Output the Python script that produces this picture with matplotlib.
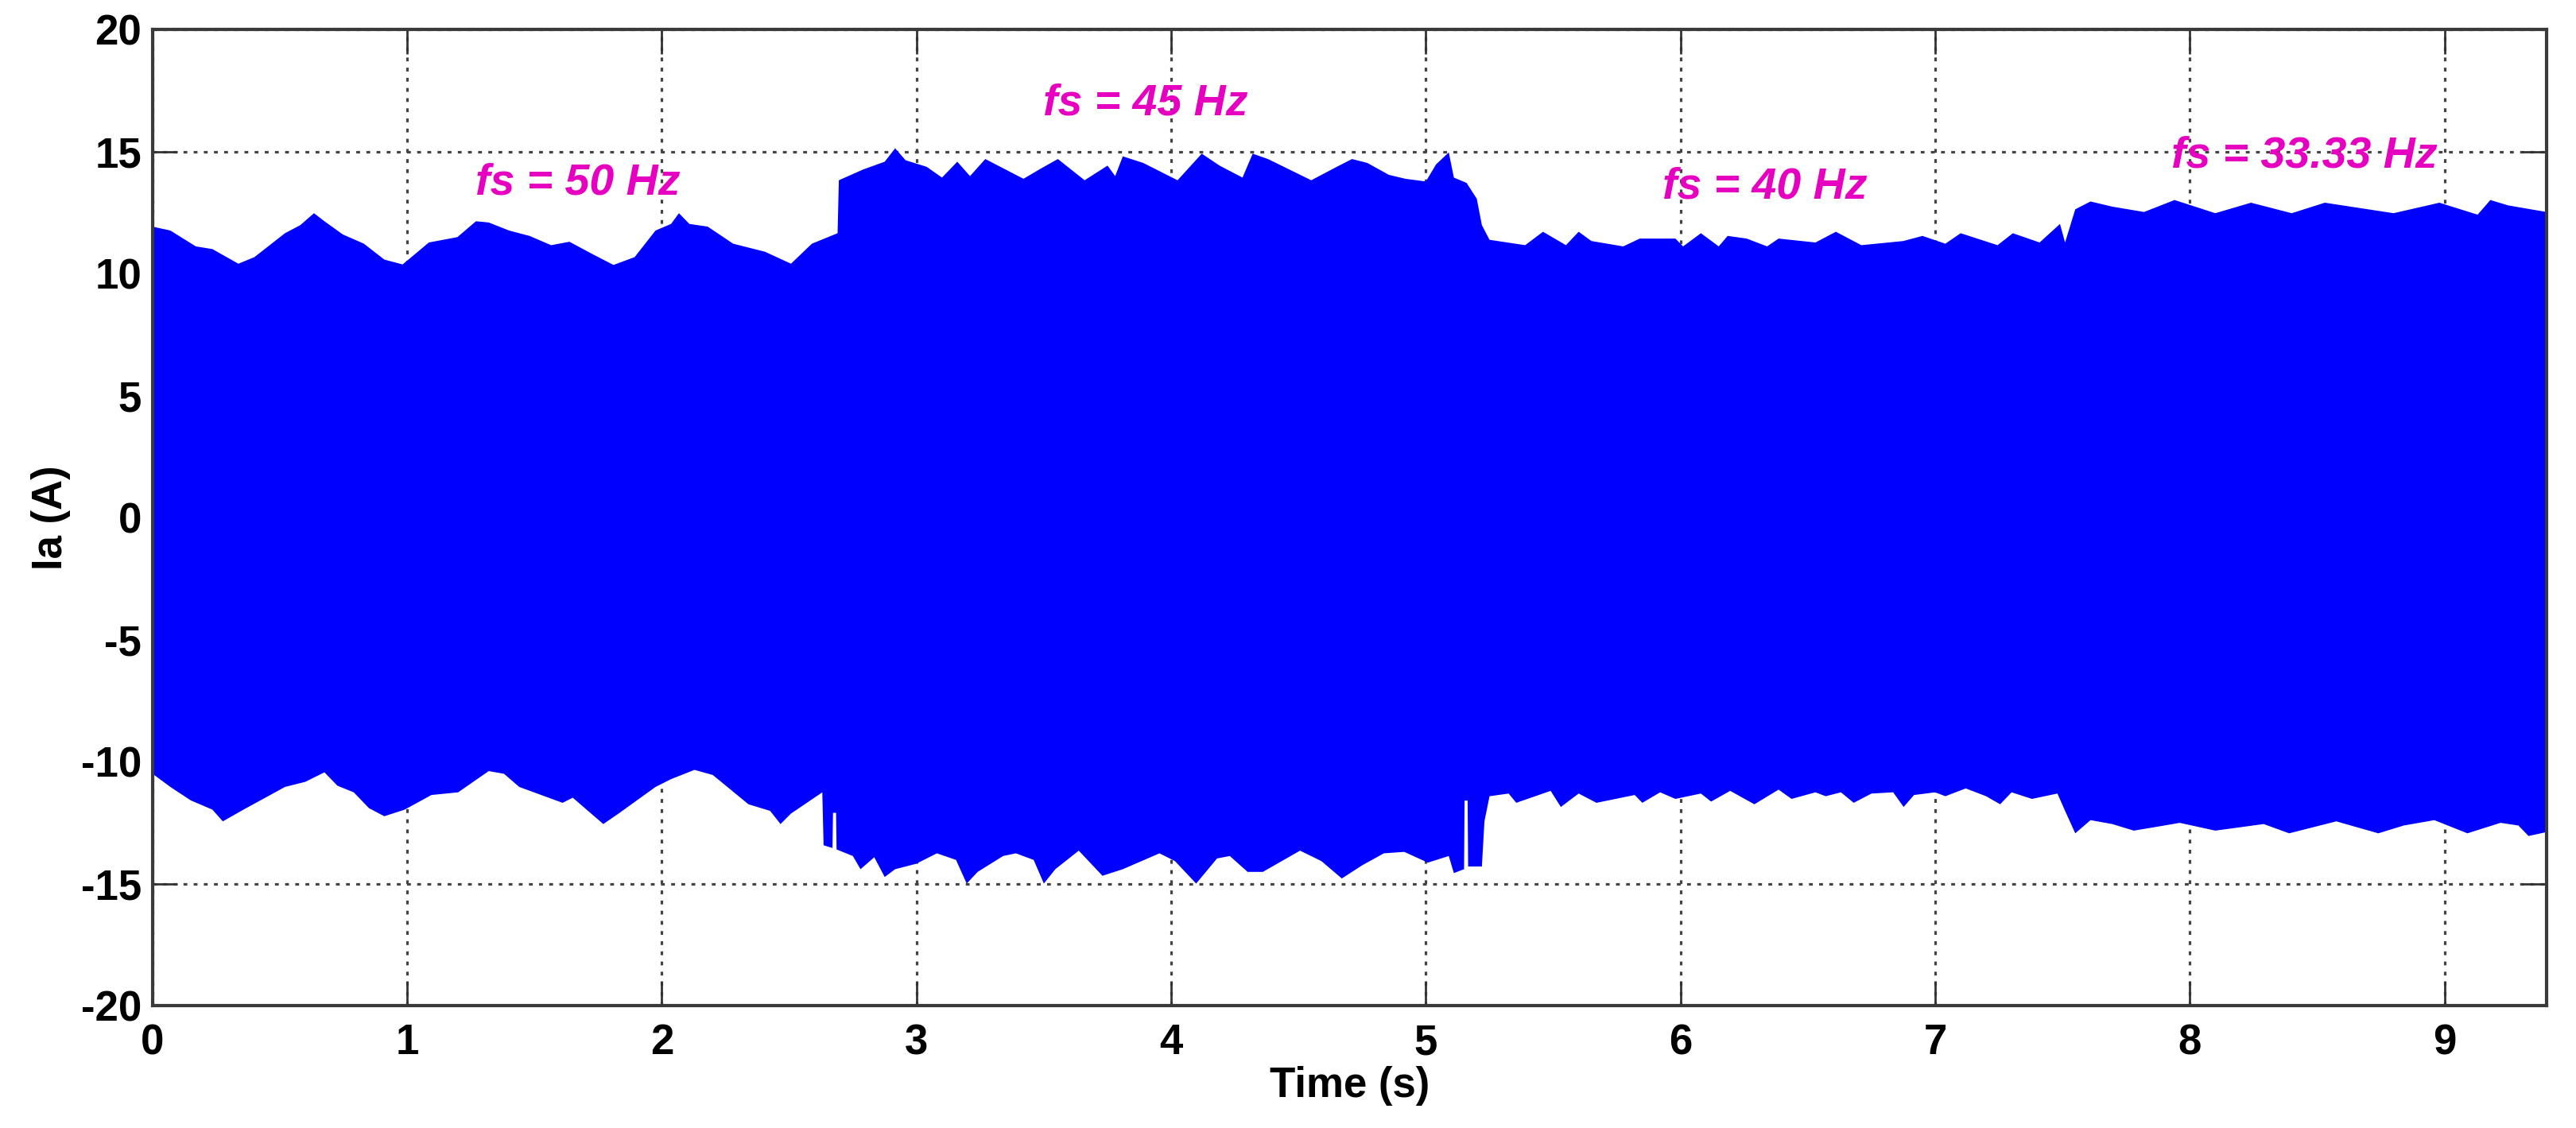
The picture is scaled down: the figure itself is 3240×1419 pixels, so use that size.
import numpy as np
import matplotlib
matplotlib.use("Agg")
import matplotlib.pyplot as plt

# envelope of the phase current Ia
t_upper = [0.0, 0.07, 0.17, 0.235, 0.337, 0.40, 0.52, 0.58, 0.634, 0.675, 0.747, 0.83, 0.91, 0.982,
           1.085, 1.197, 1.27, 1.32, 1.40, 1.48, 1.565, 1.637, 1.73, 1.81, 1.893, 1.975, 2.036, 2.067,
           2.108, 2.18, 2.28, 2.405, 2.507, 2.589, 2.69, 2.695, 2.79, 2.875, 2.916, 2.957, 3.04, 3.10,
           3.16, 3.21, 3.27, 3.42, 3.49, 3.555, 3.66, 3.75, 3.78, 3.81, 3.89, 4.025, 4.12, 4.19, 4.28,
           4.32, 4.38, 4.55, 4.65, 4.71, 4.77, 4.855, 4.92, 5.0, 5.04, 5.09, 5.11, 5.16, 5.20, 5.22,
           5.25, 5.39, 5.46, 5.55, 5.60, 5.65, 5.775, 5.84, 5.98, 6.01, 6.08, 6.15, 6.185, 6.26, 6.34,
           6.385, 6.53, 6.61, 6.71, 6.875, 6.95, 7.04, 7.10, 7.245, 7.305, 7.41, 7.49, 7.51, 7.55,
           7.61, 7.695, 7.82, 7.94, 8.10, 8.24, 8.40, 8.53, 8.80, 8.98, 9.13, 9.18, 9.25, 9.40]
ia_upper = [11.92, 11.76, 11.11, 11.0, 10.4, 10.67, 11.65, 11.98, 12.47, 12.14, 11.6, 11.22, 10.57,
            10.37, 11.27, 11.49, 12.14, 12.09, 11.76, 11.54, 11.16, 11.3, 10.78, 10.35, 10.67, 11.76,
            12.03, 12.47, 12.03, 11.92, 11.22, 10.89, 10.4, 11.22, 11.65, 13.82, 14.26, 14.58, 15.13,
            14.64, 14.37, 13.93, 14.58, 13.99, 14.69, 13.88, 14.31, 14.69, 13.82, 14.42, 13.99, 14.8,
            14.53, 13.82, 14.91, 14.42, 13.93, 14.91, 14.69, 13.82, 14.37, 14.69, 14.53, 14.04, 13.88,
            13.77, 14.47, 14.96, 13.93, 13.71, 13.06, 11.98, 11.38, 11.16, 11.71, 11.16, 11.71, 11.33,
            11.11, 11.43, 11.43, 11.11, 11.65, 11.11, 11.54, 11.43, 11.11, 11.43, 11.27, 11.71, 11.16,
            11.33, 11.54, 11.22, 11.65, 11.16, 11.65, 11.27, 12.03, 11.27, 12.63, 12.95, 12.74, 12.52,
            13.01, 12.47, 12.9, 12.47, 12.9, 12.47, 12.9, 12.41, 13.01, 12.79, 12.52]

t_lower = [0.0, 0.07, 0.15, 0.235, 0.276, 0.357, 0.52, 0.60, 0.675, 0.726, 0.79, 0.85, 0.91, 0.99,
           1.095, 1.20, 1.32, 1.38, 1.44, 1.61, 1.65, 1.77, 1.83, 1.975, 2.036, 2.128, 2.20, 2.34,
           2.425, 2.466, 2.507, 2.63, 2.635, 2.67, 2.672, 2.684, 2.686, 2.75, 2.78, 2.834, 2.875,
           2.916, 2.998, 3.08, 3.155, 3.197, 3.24, 3.34, 3.39, 3.46, 3.50, 3.545, 3.637, 3.73, 3.81,
           3.954, 4.015, 4.098, 4.18, 4.23, 4.30, 4.36, 4.506, 4.59, 4.67, 4.75, 4.835, 4.915, 5.008,
           5.09, 5.11, 5.15, 5.152, 5.164, 5.166, 5.22, 5.23, 5.25, 5.325, 5.355, 5.49, 5.53, 5.60,
           5.67, 5.82, 5.85, 5.92, 5.98, 6.08, 6.12, 6.195, 6.29, 6.385, 6.436, 6.53, 6.57, 6.63,
           6.68, 6.75, 6.835, 6.876, 6.917, 7.0, 7.04, 7.12, 7.20, 7.255, 7.30, 7.38, 7.48, 7.51,
           7.55, 7.61, 7.695, 7.78, 7.90, 7.96, 8.10, 8.29, 8.39, 8.575, 8.74, 8.84, 8.96, 9.09,
           9.22, 9.29, 9.33, 9.40]
ia_lower = [-10.5, -11.04, -11.59, -11.97, -12.45, -11.97, -11.04, -10.83, -10.44, -10.99, -11.26,
            -11.91, -12.24, -11.97, -11.37, -11.26, -10.39, -10.5, -11.04, -11.69, -11.48, -12.56,
            -12.13, -11.04, -10.72, -10.34, -10.55, -11.75, -12.02, -12.56, -12.13, -11.26, -13.43,
            -13.54, -12.1, -12.1, -13.6, -13.87, -14.41, -13.92, -14.73, -14.41, -14.19, -13.76,
            -14.03, -15.0, -14.52, -13.87, -13.76, -14.03, -15.0, -14.41, -13.65, -14.68, -14.41,
            -13.76, -14.08, -15.0, -13.97, -13.87, -14.52, -14.52, -13.65, -14.08, -14.79, -14.25,
            -13.76, -13.7, -14.14, -13.87, -14.57, -14.41, -11.6, -11.6, -14.3, -14.3, -12.45, -11.42,
            -11.31, -11.69, -11.2, -11.86, -11.31, -11.69, -11.37, -11.69, -11.26, -11.53, -11.31,
            -11.64, -11.2, -11.75, -11.15, -11.53, -11.26, -11.42, -11.26, -11.69, -11.31, -11.26,
            -11.86, -11.37, -11.26, -11.42, -11.1, -11.42, -11.75, -11.26, -11.53, -11.31, -12.02,
            -12.94, -12.4, -12.56, -12.83, -12.62, -12.51, -12.83, -12.56, -12.94, -12.45, -12.94,
            -12.62, -12.4, -12.94, -12.51, -12.62, -13.05, -12.89]

notes = ["fs = 50 Hz", "fs = 45 Hz", "fs = 40 Hz", "fs = 33.33 Hz"]
note_t = [1.67, 3.90, 6.33, 8.45]
note_ia = [13.71, 16.97, 13.55, 14.82]

x_ticks = list(range(0, 10))
y_ticks = list(range(-20, 21, 5))

plt.rcParams["font.family"] = ["Liberation Sans", "DejaVu Sans"]
plt.rcParams["axes.unicode_minus"] = False

fig = plt.figure(figsize=(32.41, 14.19), dpi=100)
ax = fig.add_axes([0.0592, 0.1085, 0.929, 0.8654])

poly_t = np.concatenate([t_upper, t_lower[::-1]])
poly_ia = np.concatenate([ia_upper, ia_lower[::-1]])
ax.fill(poly_t, poly_ia, color="#0000ff", lw=0, zorder=2)

for s, x, y in zip(notes, note_t, note_ia):
    ax.text(x, y, s, color="#e600c0", fontsize=40, fontweight="bold", fontstyle="italic",
            ha="center", va="center", zorder=3)

ax.set_xlim(0, 9.4)
ax.set_ylim(-20, 20)
ax.set_xticks(x_ticks)
ax.set_yticks(y_ticks)
ax.set_axisbelow(True)
ax.grid(True, color="#444444", linestyle=(0, (1.5, 2.5)), linewidth=2.3)

ax.tick_params(direction="in", length=22, width=2, color="#333333", top=True, right=True,
               labelsize=38)
ax.tick_params(axis="x", pad=16)
ax.tick_params(axis="y", pad=10)
for lab in ax.get_xticklabels() + ax.get_yticklabels():
    lab.set_fontweight("bold")

for sp in ax.spines.values():
    sp.set_linewidth(3)
    sp.set_color("#3a3a3a")

ax.set_xlabel("Time (s)", fontsize=38, fontweight="bold")
ax.set_ylabel("Ia (A)", fontsize=38, fontweight="bold")
ax.xaxis.set_label_coords(0.5, -0.062)
ax.yaxis.set_label_coords(-0.034, 0.5)

fig.savefig("out.png", dpi=100, facecolor="white")
